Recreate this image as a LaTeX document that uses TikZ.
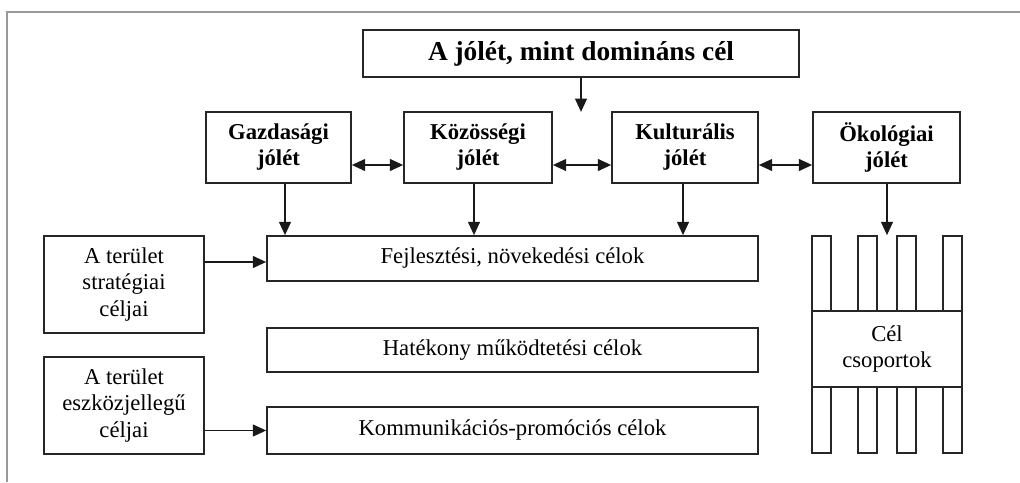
\documentclass[tikz,border=0pt]{standalone}
\usepackage{fontspec}
\setmainfont{Liberation Serif}
\usetikzlibrary{calc,arrows.meta}

\begin{document}
\begin{tikzpicture}[
  x=0.75pt,y=-0.75pt,
  >={Triangle[length=10pt,width=9pt]},
  box/.style={draw=black!85, line width=1.3pt, inner sep=0pt, align=center, font=\fontsize{17}{20}\selectfont},
  bbox/.style={box, font=\fontsize{17}{19.5}\selectfont\bfseries},
  strip/.style={draw=black!85, line width=1.3pt},
  arr/.style={->, line width=1pt, draw=black!90},
  darr/.style={<->, line width=1pt, draw=black!90}
]

% Page size and grey frame
\useasboundingbox (0,0) rectangle (1020,482);
\draw[black!40, line width=1.2pt] (7,482) -- (7,12) -- (1020,12);

% Main goal
\node[box, font=\fontsize{20.5}{24}\selectfont\bfseries, minimum width=327pt, minimum height=35.25pt] (dom) at (581,53.5) {A jólét, mint domináns cél};

% Welfare row
\node[bbox, minimum width=108.75pt, minimum height=53.25pt] (gazd) at (278.5,147.5) {Gazdasági\\jólét};
\node[bbox, minimum width=111pt, minimum height=53.25pt] (koz) at (478,147.5) {Közösségi\\jólét};
\node[bbox, minimum width=109.5pt, minimum height=53.25pt] (kult) at (685,147.5) {Kulturális\\jólét};
\node[bbox, minimum width=110.25pt, minimum height=53.25pt] (okol) at (886.5,147.5) {Ökológiai\\jólét};

% Goal boxes in the middle
\node[box, minimum width=368.25pt, minimum height=33.75pt] (fejl) at (512.5,258.5) {Fejlesztési, növekedési célok};
\node[box, minimum width=368.25pt, minimum height=33pt] (hat) at (512.5,350) {Hatékony működtetési célok};
\node[box, minimum width=368.25pt, minimum height=35.25pt] (komm) at (512.5,430.5) {Kommunikációs-promóciós célok};

% Left side boxes
\node[box, minimum width=120pt, minimum height=72.75pt] (strat) at (124,284.5) {A terület\\stratégiai\\céljai};
\node[box, minimum width=120pt, minimum height=72.75pt] (eszk) at (124,405.5) {A terület\\eszközjellegű\\céljai};

% Target groups with strips
\foreach \sx in {812,858,897,943} {
  \draw[strip] (\sx,236) rectangle ++(19,75);
  \draw[strip] (\sx,387) rectangle ++(19,66);
}
\node[box, fill=white, minimum width=112.5pt, minimum height=57pt] (cel) at (887,349) {Cél\\csoportok};

% Arrows
\draw[arr] (dom.south) -- ++(0,34) coordinate (domend);
\draw[darr] ($(gazd.east)+(0,17.5)$) -- ($(koz.west)+(0,17.5)$);
\draw[darr] ($(koz.east)+(0,17.5)$) -- ($(kult.west)+(0,17.5)$);
\draw[darr] ($(kult.east)+(0,17.5)$) -- ($(okol.west)+(0,17.5)$);

\draw[arr] ($(gazd.south)+(6.5,0)$) coordinate (g) -- (g |- fejl.north);
\draw[arr] ($(koz.south)+(-4,0)$) coordinate (k) -- (k |- fejl.north);
\draw[arr] ($(kult.south)+(-2,0)$) coordinate (c) -- (c |- fejl.north);
\draw[arr] ($(okol.south)+(0.5,0)$) coordinate (o) -- (o |- fejl.north);

\draw[arr] ($(strat.east)+(0,-22.5)$) coordinate (s) -- (s -| fejl.west);
\draw[arr] (eszk.east |- komm.west) -- (komm.west);

\end{tikzpicture}
\end{document}
